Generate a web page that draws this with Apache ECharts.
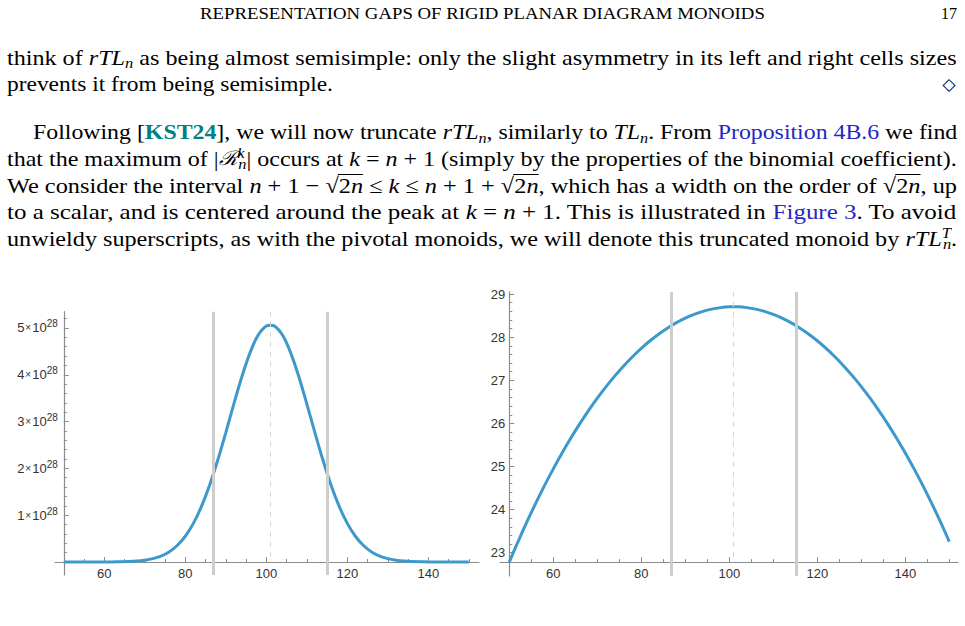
<!DOCTYPE html>
<html><head><meta charset="utf-8">
<script src="https://cdn.jsdelivr.net/npm/echarts@6/dist/echarts.min.js"></script>
<style>html,body{margin:0;padding:0;background:#fff}#main{width:965px;height:626px}</style>
</head><body><div id="main"></div>
<script>
// ---------------- data ----------------
const kValues = [50,52,54,56,58,60,62,64,66,68,70,72,74,76,78,80,82,84,86,88,90,92,94,96,98,100,101,
  102,104,106,108,110,112,114,116,118,120,122,124,126,128,130,132,134,136,138,140,142,144,146,148,150];
const sizeValues = [6.06e22,1.82e23,5.18e23,1.40e24,3.60e24,8.81e24,2.056e25,4.576e25,9.725e25,1.974e26,
  3.832e26,7.117e26,1.2655e27,2.1547e27,3.5156e27,5.4987e27,8.2472e27,1.1870e28,1.6391e28,2.1727e28,
  2.7651e28,3.3804e28,3.9673e28,4.4740e28,4.8484e28,5.0446e28,5.057e28,
  5.0446e28,4.8484e28,4.4740e28,3.9673e28,3.3804e28,2.7651e28,2.1727e28,1.6391e28,1.1870e28,8.2472e27,
  5.4987e27,3.5156e27,2.1547e27,1.2655e27,7.117e26,3.832e26,1.974e26,9.725e25,4.576e25,2.056e25,
  8.81e24,3.60e24,1.40e24,5.18e23,1.82e23];
const logSizeValues = [22.7827,23.2598,23.7141,24.1460,24.5562,24.9451,25.3130,25.6605,25.9879,26.2954,
  26.5835,26.8523,27.1022,27.3334,27.5460,27.7402,27.9163,28.0744,28.2146,28.3370,28.4417,28.5289,
  28.5985,28.6507,28.6855,28.7028,28.7039,
  28.7028,28.6855,28.6507,28.5985,28.5289,28.4417,28.3370,28.2146,28.0744,27.9163,27.7402,27.5460,
  27.3334,27.1022,26.8523,26.5835,26.2954,25.9879,25.6605,25.3130,24.9451,24.5562,24.1460,23.7141,23.2598];
const truncationBounds = [86.86, 115.14];
const peakK = 101;
const xTickLabels = [60, 80, 100, 120, 140];
const xMinorTicks = [55,60,65,70,75,80,85,90,95,100,105,110,115,120,125,130,135,140,145,150];
const leftYMajorTicks = [1e28, 2e28, 3e28, 4e28, 5e28];
const leftYMinorTicks = [2e27,4e27,6e27,8e27,1.2e28,1.4e28,1.6e28,1.8e28,2.2e28,2.4e28,2.6e28,2.8e28,
  3.2e28,3.4e28,3.6e28,3.8e28,4.2e28,4.4e28,4.6e28,4.8e28,5.2e28];
const rightYMajorTicks = [23, 24, 25, 26, 27, 28, 29];
const rightYMinorTicks = [23.2,23.4,23.6,23.8,24.2,24.4,24.6,24.8,25.2,25.4,25.6,25.8,26.2,26.4,26.6,26.8,
  27.2,27.4,27.6,27.8,28.2,28.4,28.6,28.8];

// ---------------- layout / style ----------------
const SERIF = '"Liberation Serif", "DejaVu Serif", serif';
const SANS = '"Liberation Sans", Arial, sans-serif';
const AXIS = '#8c8c8c', LABEL = '#333', CURVE = '#3d99cc', BAND = '#cdcdcd';
const L = {left:55, top:311.7, width:424, height:263.3, xMin:47.83, xMax:152.52, yMin:-0.278e28, yMax:5.348e28};
const R = {left:500, top:291.9, width:458, height:284.1, xMin:47.89, xMax:151.98, yMin:22.46, yMax:29.05};
const L_xAt = 0, R_xAt = logSizeValues[0];
function yOff(b){ return -(kValues[0]-b.xMin)/(b.xMax-b.xMin)*b.width; }
function xOff(b, at){ return -(at-b.yMin)/(b.yMax-b.yMin)*b.height; }

function xAxesFor(gi, b, off){
  const c = {type:'value', gridIndex:gi, min:b.xMin, max:b.xMax, position:'bottom', offset:off, splitLine:{show:false}};
  return [
    Object.assign({}, c, {axisLine:{show:true,onZero:false,lineStyle:{color:AXIS,width:1.2}},
      axisTick:{show:true,inside:true,length:5,customValues:xTickLabels,lineStyle:{color:AXIS}},
      axisLabel:{show:true,customValues:xTickLabels,margin:5,color:LABEL,fontSize:13,fontFamily:SANS}}),
    Object.assign({}, c, {axisLine:{show:false,onZero:false},
      axisTick:{show:true,inside:true,length:3,customValues:xMinorTicks,lineStyle:{color:AXIS}},
      axisLabel:{show:false}})
  ];
}
function yAxesFor(gi, b, off, major, minor, labelCfg){
  const c = {type:'value', gridIndex:gi, min:b.yMin, max:b.yMax, position:'left', offset:off, splitLine:{show:false}};
  return [
    Object.assign({}, c, {axisLine:{show:true,onZero:false,lineStyle:{color:AXIS,width:1.2}},
      axisTick:{show:true,inside:true,length:5,customValues:major,lineStyle:{color:AXIS}},
      axisLabel:Object.assign({show:true,customValues:major,color:LABEL,fontSize:13,fontFamily:SANS}, labelCfg)}),
    Object.assign({}, c, {axisLine:{show:false,onZero:false},
      axisTick:{show:true,inside:true,length:3,customValues:minor,lineStyle:{color:AXIS}},
      axisLabel:{show:false}})
  ];
}

const leftLabel = {margin:6, formatter: v => `{a|${Math.round(v/1e28)}}{m|×}{a|10}{e|28}`,
  rich:{a:{fontSize:13,fontFamily:SANS,color:LABEL,lineHeight:18},
        m:{fontSize:10,fontFamily:SANS,color:LABEL,padding:[0,1,0,1],lineHeight:18},
        e:{fontSize:10,fontFamily:SANS,color:LABEL,verticalAlign:'top',lineHeight:18}}};
const rightLabel = {margin:4};

function markerSeries(xi, yi, yTop, yBase){
  return {type:'line', xAxisIndex:xi, yAxisIndex:yi, data:[], z:1, silent:true,
    markLine:{silent:true, symbol:['none','none'], label:{show:false}, animation:false,
      emphasis:{disabled:true},
      data:[
        ...truncationBounds.map(v => ({xAxis:v, lineStyle:{color:BAND,width:3,type:'solid'}})),
        [{coord:[peakK, yTop], lineStyle:{color:'#d4d4d4',width:1,type:[5,5]}}, {coord:[peakK, yBase]}]
      ]}};
}
function curveSeries(xi, yi, vals){
  return {type:'line', xAxisIndex:xi, yAxisIndex:yi, z:3, silent:true, showSymbol:false, smooth:0.3,
    data:kValues.map((k,i)=>[k, vals[i]]), lineStyle:{color:CURVE,width:3}};
}

// ---------------- text ----------------
const rich = {
  t:{fontFamily:SERIF,fontSize:22,fill:'#000'},
  i:{fontFamily:SERIF,fontSize:22,fontStyle:'italic',fill:'#000'},
  sb:{fontFamily:SERIF,fontSize:15,fontStyle:'italic',fill:'#000',verticalAlign:'bottom'},
  sp:{fontFamily:SERIF,fontSize:15,fontStyle:'italic',fill:'#000',verticalAlign:'top'},
  spz:{fontFamily:SERIF,fontSize:15,fontStyle:'italic',fill:'#000',verticalAlign:'top',width:1},
  bt:{fontFamily:SERIF,fontSize:22,fontWeight:'bold',fill:'#008080'},
  bl:{fontFamily:SERIF,fontSize:22,fill:'#2626c4'},
  sc:{fontFamily:'"DejaVu Serif", serif',fontSize:20,fontStyle:'italic',fill:'#000'},
  ov:{fontFamily:SERIF,fontSize:22,fill:'#000'},
  ovi:{fontFamily:SERIF,fontSize:22,fontStyle:'italic',fill:'#000'},
  h:{fontFamily:SERIF,fontSize:16,fill:'#000'}
};
const ctx = document.createElement('canvas').getContext('2d');
function measure(seg){
  const s = rich[seg[0]];
  if (s.width != null) return s.width;
  ctx.font = `${s.fontStyle||'normal'} ${s.fontWeight||'normal'} ${s.fontSize}px ${s.fontFamily}`;
  return ctx.measureText(seg[1]).width;
}
const graphics = [];
function textLine(segs, left, y, targetWidth){
  let w = 0; const ovs = [];
  segs.forEach(seg => { const sw = measure(seg);
    if (seg[0].indexOf('ov') === 0) {
      if (ovs.length && Math.abs(ovs[ovs.length-1][1]-w) < 0.01) ovs[ovs.length-1][1] = w+sw; else ovs.push([w, w+sw]);
    }
    w += sw; });
  const sx = targetWidth ? targetWidth / w : 1;
  graphics.push({type:'text', x:left, y:y, scaleX:sx, originX:0, originY:0, silent:true,
    style:{text:segs.map(s=>`{${s[0]}|${s[1]}}`).join(''), rich:rich, x:0, y:0,
      align:'left', verticalAlign:'middle', lineHeight:26, fontFamily:SERIF, fontSize:22}});
  ovs.forEach(o => graphics.push({type:'line', silent:true,
    shape:{x1:left+o[0]*sx-1, y1:y-10.5, x2:left+o[1]*sx, y2:y-10.5}, style:{stroke:'#000', lineWidth:1}}));
}

textLine([['h','REPRESENTATION GAPS OF RIGID PLANAR DIAGRAM MONOIDS']], 200, 13, 565);
graphics.push({type:'text', x:957, y:13, silent:true, style:{text:'17', font:`16px ${SERIF}`, fill:'#000', align:'right', verticalAlign:'middle'}});

textLine([['t','think of '],['i','rTL'],['sb','n'],['t',' as being almost semisimple: only the slight asymmetry in its left and right cells sizes']], 7, 57, 950);
textLine([['t','prevents it from being semisimple.']], 7, 84, 326);
graphics.push({type:'text', x:949, y:84, silent:true, style:{text:'◇', font:'17px "DejaVu Sans", sans-serif', fill:'#000', align:'center', verticalAlign:'middle'}});

textLine([['t','Following ['],['bt','KST24'],['t','], we will now truncate '],['i','rTL'],['sb','n'],['t',', similarly to '],['i','TL'],['sb','n'],['t','. From '],['bl','Proposition 4B.6'],['t',' we find']], 33, 132, 924);
textLine([['t','that the maximum of |'],['sc','ℛ'],['spz','k'],['sb','n'],['t','| occurs at '],['i','k'],['t',' = '],['i','n'],['t',' + 1 (simply by the properties of the binomial coefficient).']], 7, 158, 950);
textLine([['t','We consider the interval '],['i','n'],['t',' + 1 − √'],['ov','2'],['ovi','n'],['t',' ≤ '],['i','k'],['t',' ≤ '],['i','n'],['t',' + 1 + √'],['ov','2'],['ovi','n'],['t',', which has a width on the order of √'],['ov','2'],['ovi','n'],['t',', up']], 7, 185, 950);
textLine([['t','to a scalar, and is centered around the peak at '],['i','k'],['t',' = '],['i','n'],['t',' + 1. This is illustrated in '],['bl','Figure 3'],['t','. To avoid']], 7, 212, 950);
textLine([['t','unwieldy superscripts, as with the pivotal monoids, we will denote this truncated monoid by '],['i','rTL'],['spz','T'],['sb','n'],['t','.']], 7, 238, 950);

// ---------------- chart ----------------
const chart = echarts.init(document.getElementById('main'), null, {renderer:'svg', width:965, height:626});
chart.setOption({
  animation:false,
  backgroundColor:'#fff',
  grid:[
    {left:L.left, top:L.top, width:L.width, height:L.height, containLabel:false},
    {left:R.left, top:R.top, width:R.width, height:R.height, containLabel:false}
  ],
  xAxis:[...xAxesFor(0, L, xOff(L, L_xAt)), ...xAxesFor(1, R, xOff(R, R_xAt))],
  yAxis:[...yAxesFor(0, L, yOff(L), leftYMajorTicks, leftYMinorTicks, leftLabel),
         ...yAxesFor(1, R, yOff(R), rightYMajorTicks, rightYMinorTicks, rightLabel)],
  series:[
    markerSeries(0, 0, L.yMax, 0),
    curveSeries(0, 0, sizeValues),
    markerSeries(2, 2, R.yMax, R_xAt),
    curveSeries(2, 2, logSizeValues)
  ],
  graphic:{elements:graphics}
});
</script></body></html>
